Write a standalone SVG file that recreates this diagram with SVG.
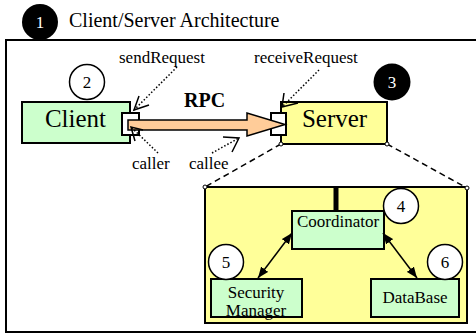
<svg xmlns="http://www.w3.org/2000/svg" width="476" height="334" viewBox="0 0 476 334" font-family="'Liberation Serif', 'Times New Roman', 'DejaVu Serif', serif">
<style>
text{font-family:'Liberation Serif','Times New Roman','DejaVu Serif',serif;fill:#000}
.lbl{font-size:17px}
.big{font-size:25px}
.num{font-size:17px;text-anchor:middle}
.box{stroke:#000;stroke-width:2}
.green{fill:#ccffcc}
.yellow{fill:#ffff99}
.dot{fill:none;stroke:#000;stroke-width:1.5;stroke-dasharray:1.5,2}
.head{fill:none;stroke:#000;stroke-width:1.5}
.dash{fill:none;stroke:#000;stroke-width:1.5;stroke-dasharray:6,4}
.end{fill:#fff;stroke:#000;stroke-width:1}
</style>
<defs>
<marker id="ah" viewBox="0 0 10 8" refX="10" refY="4" markerWidth="11" markerHeight="9" markerUnits="userSpaceOnUse" orient="auto-start-reverse">
<path d="M0,0 L10,4 L0,8 z" fill="#000"/>
</marker>
</defs>
<rect width="476" height="334" fill="#fff"/>
<g id="frame">
<rect x="6" y="40" width="480" height="292" fill="#fff" stroke="#000" stroke-width="2"/>
</g>
<g id="title">
<circle cx="40" cy="22" r="18" fill="#000"/>
<text x="40" y="28" class="num" style="fill:#fff">1</text>
<text x="69" y="27" style="font-size:20px">Client/Server Architecture</text>
</g>
<g id="inner-box">
<rect x="205" y="187" width="262" height="136" class="box yellow"/>
<line x1="336" y1="187" x2="336" y2="211" stroke="#000" stroke-width="5"/>
</g>
<g id="client">
<rect x="22" y="102" width="108" height="41" class="box green"/>
<text x="75.5" y="127" class="big" text-anchor="middle">Client</text>
<rect x="122" y="113" width="17" height="22" class="box" fill="#fff"/>
<circle cx="87" cy="82" r="17.5" fill="#fff" stroke="#000" stroke-width="1.5"/>
<text x="87" y="88" class="num">2</text>
</g>
<g id="server">
<rect x="281" y="102" width="106" height="42" class="box yellow"/>
<text x="334.5" y="127" class="big" text-anchor="middle">Server</text>
<rect x="271" y="113" width="15" height="22" class="box" fill="#fff"/>
<circle cx="392" cy="82" r="18.5" fill="#000"/>
<text x="392" y="88" class="num" style="fill:#fff">3</text>
</g>
<g id="coordinator">
<rect x="292" y="211" width="92" height="38" class="box green"/>
<text x="338" y="227" class="lbl" text-anchor="middle">Coordinator</text>
<circle cx="401" cy="206" r="17.5" fill="#fff" stroke="#000" stroke-width="1.5"/>
<text x="401" y="212" class="num">4</text>
</g>
<g id="security-manager">
<rect x="211" y="279" width="91" height="38" class="green"/>
<text x="256" y="298" class="lbl" text-anchor="middle">Security</text>
<text x="256" y="316" class="lbl" text-anchor="middle">Manager</text>
<rect x="211" y="279" width="91" height="38" class="box" fill="none"/>
<circle cx="226" cy="262" r="17.5" fill="#fff" stroke="#000" stroke-width="1.5"/>
<text x="226" y="268" class="num">5</text>
</g>
<g id="database">
<rect x="371" y="279" width="88" height="38" class="box green"/>
<text x="415" y="303" class="lbl" text-anchor="middle">DataBase</text>
<circle cx="445" cy="262" r="17.5" fill="#fff" stroke="#000" stroke-width="1.5"/>
<text x="445" y="268" class="num">6</text>
</g>
<g id="connectors">
<polygon points="128,120 247,120 247,113 285,124.5 247,136 247,130 128,130" fill="#ffcc99" stroke="#000" stroke-width="1.5"/>
<text x="184" y="107" style="font-size:20px;font-weight:bold">RPC</text>
<line x1="281" y1="144" x2="205" y2="187" class="dash"/>
<line x1="387" y1="144" x2="467" y2="188" class="dash"/>
<circle cx="281" cy="144" r="2" class="end"/>
<circle cx="387" cy="144" r="2" class="end"/>
<circle cx="205" cy="187" r="2" class="end"/>
<circle cx="467" cy="188" r="2" class="end"/>
<line x1="292" y1="233" x2="258" y2="278" stroke="#000" stroke-width="1.5" marker-start="url(#ah)" marker-end="url(#ah)"/>
<line x1="383" y1="233" x2="417" y2="278" stroke="#000" stroke-width="1.5" marker-start="url(#ah)" marker-end="url(#ah)"/>
<text x="119" y="63" class="lbl">sendRequest</text>
<line x1="177" y1="67" x2="134" y2="110" class="dot"/>
<polyline points="139,96 134,110 149,105" class="head"/>
<text x="254" y="63" class="lbl">receiveRequest</text>
<line x1="319" y1="70" x2="282" y2="107" class="dot"/>
<polyline points="284,93 282,107 298,103" class="head"/>
<text x="132" y="169" class="lbl">caller</text>
<line x1="158" y1="153" x2="131" y2="127" class="dot"/>
<polyline points="135,141 131,127 143,130" class="head"/>
<text x="189" y="169" class="lbl">callee</text>
<line x1="212" y1="153" x2="239" y2="138" class="dot"/>
<polyline points="223,137 239,138 232,152" class="head"/>
</g>
</svg>
